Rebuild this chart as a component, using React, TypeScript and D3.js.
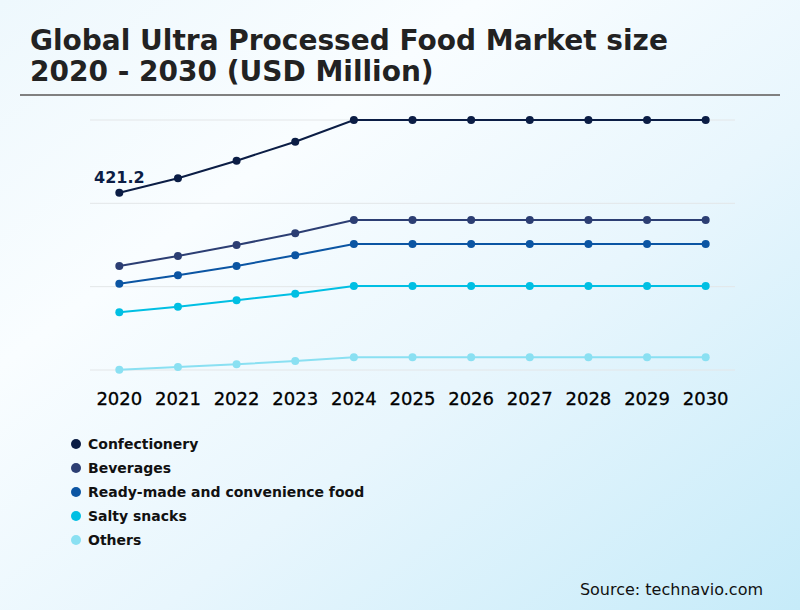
import React from "react";
import * as d3 from "d3";

const years = ["2020", "2021", "2022", "2023", "2024", "2025", "2026", "2027", "2028", "2029", "2030"];

const confectionery = [421.2, 455.5, 497.3, 542.4, 594, 594, 594, 594, 594, 594, 594];
const beverages = [247.1, 270.9, 297.0, 324.8, 356.4, 356.4, 356.4, 356.4, 356.4, 356.4, 356.4];
const readyMade = [205.0, 225.0, 247.1, 272.5, 299.4, 299.4, 299.4, 299.4, 299.4, 299.4, 299.4];
const saltySnacks = [137.1, 150.4, 165.6, 181.3, 199.6, 199.6, 199.6, 199.6, 199.6, 199.6, 199.6];
const others = [0.7, 7.1, 13.5, 21.4, 30.2, 30.2, 30.2, 30.2, 30.2, 30.2, 30.2];

const seriesNames = ["Confectionery", "Beverages", "Ready-made and convenience food", "Salty snacks", "Others"];
const seriesColors = ["#0b1d45", "#2c3e73", "#0b55a3", "#00bfe3", "#8ae0f2"];
const seriesValues = [confectionery, beverages, readyMade, saltySnacks, others];

const gridValues = [0, 198, 396, 594];

const W = 800;
const H = 610;
const FONT = "DejaVu Sans, sans-serif";

export default function App() {
  const x = d3.scalePoint<string>().domain(years).range([90, 735]).padding(0.5);
  const y = d3.scaleLinear().domain([0, 594]).range([370, 120]);
  const line = d3
    .line<number>()
    .x((_, i) => x(years[i]) as number)
    .y((d) => y(d));

  return (
    <svg
      width={W}
      height={H}
      style={{ position: "absolute", left: 0, top: 0 }}
      fontFamily={FONT}
    >
      <defs>
        <linearGradient id="bg" x1="0" y1="0" x2="1" y2="1">
          <stop offset="0" stopColor="#eef8fd" />
          <stop offset="0.3" stopColor="#f9fdff" />
          <stop offset="0.6" stopColor="#e8f6fd" />
          <stop offset="1" stopColor="#c6ebf9" />
        </linearGradient>
      </defs>
      <rect width={W} height={H} fill="url(#bg)" />

      <text x={30} y={50} fontSize={28} fontWeight="bold" fill="#222">
        Global Ultra Processed Food Market size
      </text>
      <text x={30} y={81} fontSize={28} fontWeight="bold" fill="#222">
        2020 - 2030 (USD Million)
      </text>
      <line x1={20} x2={780} y1={95} y2={95} stroke="#808080" strokeWidth={2} />

      {gridValues.map((g) => (
        <line key={g} x1={90} x2={735} y1={y(g)} y2={y(g)} stroke="#e3e6e8" strokeWidth={1} />
      ))}

      {seriesValues.map((vals, si) => (
        <g key={seriesNames[si]}>
          <path d={line(vals) || ""} fill="none" stroke={seriesColors[si]} strokeWidth={2} />
          {vals.map((v, i) => (
            <circle key={i} cx={x(years[i])} cy={y(v)} r={4} fill={seriesColors[si]} />
          ))}
        </g>
      ))}

      <text
        x={x(years[0])}
        y={y(confectionery[0]) - 10}
        textAnchor="middle"
        fontSize={16}
        fontWeight="bold"
        fill={seriesColors[0]}
      >
        {confectionery[0]}
      </text>

      {years.map((yr) => (
        <text
          key={yr}
          x={x(yr)}
          y={405}
          textAnchor="middle"
          fontSize={18}
          fill="#000"
          stroke="#000"
          strokeWidth={0.3}
        >
          {yr}
        </text>
      ))}

      {seriesNames.map((name, i) => (
        <g key={name} transform={`translate(0, ${444 + i * 24})`}>
          <circle cx={76} cy={0} r={5} fill={seriesColors[i]} />
          <text x={88} y={5} fontSize={14} fontWeight="bold" fill="#111">
            {name}
          </text>
        </g>
      ))}

      <text x={763} y={595} textAnchor="end" fontSize={16} fill="#111">
        Source: technavio.com
      </text>
    </svg>
  );
}
